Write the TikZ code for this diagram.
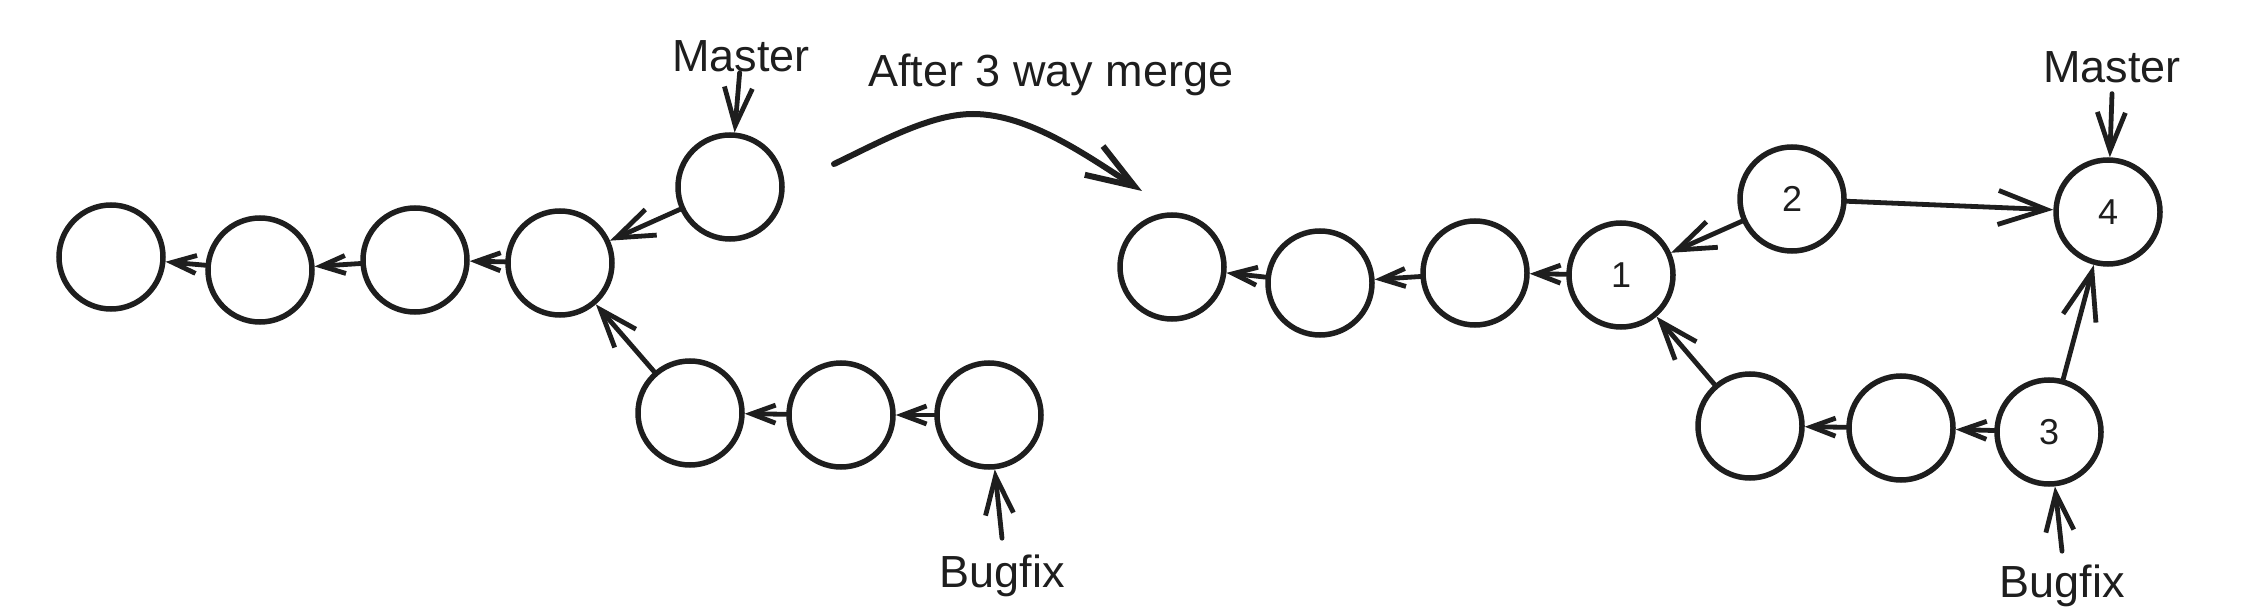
\documentclass[tikz,border=0pt]{standalone}
\usepackage{fontspec}
\setmainfont{Liberation Sans}
\usetikzlibrary{arrows.meta}
\definecolor{ink}{HTML}{1E1E1E}
\begin{document}
\begin{tikzpicture}[x=1pt,y=-1pt,
  commit/.style={circle,draw=ink,line width=5.5pt,minimum size=104pt,inner sep=0pt,text=ink,font=\fontsize{36}{40}\selectfont},
  lbl/.style={inner sep=0pt,text=ink,font=\fontsize{45}{54}\selectfont},
  conn/.style={draw=ink,line width=4.8pt,line cap=round,line join=round},
  sarr/.style={conn,-{Straight Barb[length=24pt,width=18pt]}},
  marr/.style={conn,-{Straight Barb[length=38pt,width=28pt]}},
  larr/.style={conn,-{Straight Barb[length=48pt,width=34pt]}},
]
\useasboundingbox (0,0) rectangle (2259,612);
% ---------- left: before merge ----------
\node[commit] (a1) at (111,257) {};
\node[commit] (a2) at (260,270) {};
\node[commit] (a3) at (415,260) {};
\node[commit] (a4) at (560,263) {};
\node[commit] (m)  at (730,187) {};
\node[commit] (b1) at (690,413) {};
\node[commit] (b2) at (841,415) {};
\node[commit] (b3) at (989,415) {};
\node[lbl,anchor=base] (mL) at (741,72) {Master};
\node[lbl,anchor=base] (bL) at (1002,587) {Bugfix};
\draw[sarr] (a2) -- (a1);
\draw[sarr] (a3) -- (a2);
\draw[sarr] (a4) -- (a3);
\draw[marr] (m) -- (a4);
\draw[marr] (b1) -- (a4);
\draw[sarr] (b2) -- (b1);
\draw[sarr] (b3) -- (b2);
\draw[marr] (mL) -- (m);
\draw[marr] ([yshift=16pt]bL.north) -- (b3);
% ---------- middle ----------
\node[lbl,anchor=base] (title) at (1051,87) {After 3 way merge};
\coordinate (cs) at (834,164);
\coordinate (ce) at (1142,191);
\draw[larr,line width=6pt] (cs) .. controls (880,142) and (930,114) .. (973,114)
  .. controls (1030,114) and (1090,158) .. (ce);
% ---------- right: after merge ----------
\node[commit] (c1) at (1172,267) {};
\node[commit] (c2) at (1320,283) {};
\node[commit] (c3) at (1475,273) {};
\node[commit] (n1) at (1621,275) {1};
\node[commit] (n2) at (1792,199) {2};
\node[commit] (n4) at (2108,212) {4};
\node[commit] (r1) at (1750,426) {};
\node[commit] (r2) at (1901,428) {};
\node[commit] (n3) at (2049,432) {3};
\node[lbl,anchor=base] (mR) at (2112,83) {Master};
\node[lbl,anchor=base] (bR) at (2062,597) {Bugfix};
\draw[sarr] (c2) -- (c1);
\draw[sarr] (c3) -- (c2);
\draw[sarr] (n1) -- (c3);
\draw[marr] (n2) -- (n1);
\draw[marr] (r1) -- (n1);
\draw[sarr] (r2) -- (r1);
\draw[sarr] (n3) -- (r2);
\draw[larr] (n2) -- (n4);
\draw[larr] (n3) -- (n4);
\draw[marr] ([yshift=-10pt]mR.south) -- (n4);
\draw[marr] ([yshift=13pt]bR.north) -- (n3);
\end{tikzpicture}
\end{document}
